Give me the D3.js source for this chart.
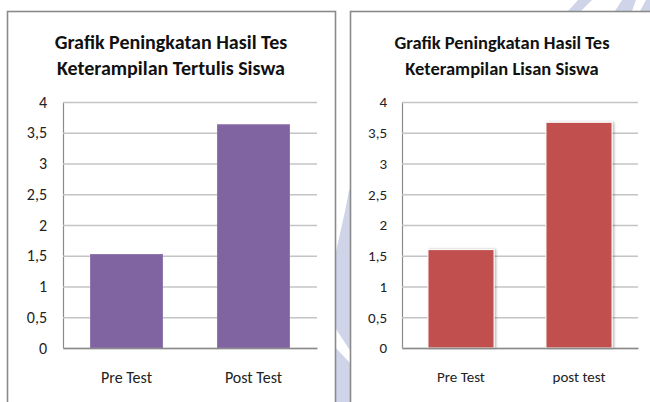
<!DOCTYPE html>
<html><head><meta charset="utf-8">
<script src="https://cdn.jsdelivr.net/npm/d3@7"></script>
<style>body{margin:0;background:#fff}svg{display:block}</style>
</head><body>
<svg id="c" width="650" height="402"></svg>
<script>
// ---- data ----
const categoriesTertulis = ["Pre Test", "Post Test"];
const valuesTertulis = [1.52, 3.63];
const categoriesLisan = ["Pre Test", "post test"];
const valuesLisan = [1.60, 3.67];
const yTicks = [0, 0.5, 1, 1.5, 2, 2.5, 3, 3.5, 4];
const yTickLabels = ["0", "0,5", "1", "1,5", "2", "2,5", "3", "3,5", "4"];
const titleTertulis = ["Grafik Peningkatan Hasil Tes", "Keterampilan Tertulis Siswa"];
const titleLisan = ["Grafik Peningkatan Hasil Tes", "Keterampilan Lisan Siswa"];

const svg = d3.select("#c");
const FONT = "Carlito, Calibri, Lato, 'Open Sans', sans-serif";
const CONDENSE = 1.0;

function condense(sel, f) {
  sel.each(function () {
    const w = this.getComputedTextLength();
    d3.select(this).attr("textLength", w * f).attr("lengthAdjust", "spacingAndGlyphs");
  });
}

// ---- watermark (faint background shapes) ----
const wm = svg.append("g").attr("fill", "#cfd4e8");
wm.append("path").attr("d", "M349,190 C345,215 338,240 334,262 L334,402 L351,402 L351,190 Z");
wm.append("path").attr("d", "M334,326 L351,352 L351,364 L334,346 Z").attr("fill", "#fff");
wm.append("path").attr("d", "M568,11 L581,11 L592,0 L578,0 Z");
wm.append("path").attr("d", "M615,11 L632,11 L636,0 L622,0 Z");
wm.append("path").attr("d", "M640,11 L650,11 L650,0 L646,0 Z");

// shadow filter for the second chart's bars
const defs = svg.append("defs");
const flt = defs.append("filter").attr("id", "sh").attr("x", "-20%").attr("y", "-5%").attr("width", "140%").attr("height", "110%");
flt.append("feDropShadow").attr("dx", 1.5).attr("dy", 0).attr("stdDeviation", 1.2)
   .attr("flood-color", "#000").attr("flood-opacity", 0.3);

function drawChart(o) {
  const g = svg.append("g");
  // chart frame
  g.append("rect").attr("x", o.box[0]).attr("y", o.box[1]).attr("width", o.box[2]).attr("height", o.box[3])
    .attr("fill", "#fff").attr("stroke", "#8a8a8a").attr("stroke-width", 1.6);

  // title
  const t = g.append("text").attr("text-anchor", "middle").attr("font-family", FONT)
    .attr("font-weight", "bold").attr("font-size", o.titleSize).attr("fill", "#111");
  o.title.forEach((line, i) => {
    t.append("tspan").attr("x", o.titleX).attr("y", o.titleY[i]).text(line);
  });

  const x = d3.scaleBand().domain(o.cats).range([o.x0, o.x1]).paddingInner(o.pad).paddingOuter(o.pad / 2);
  const y = d3.scaleLinear().domain([0, 4]).range([o.y0, o.y1]);

  // y axis with gridlines
  const ya = g.append("g").attr("transform", `translate(${o.x0},0)`)
    .call(d3.axisLeft(y).tickValues(yTicks).tickSize(-(o.x1 - o.x0)).tickSizeOuter(0)
      .tickPadding(o.tickPad).tickFormat((d, i) => yTickLabels[i]));
  ya.select(".domain").attr("stroke", "#8a8a8a").attr("stroke-width", 1.2);
  ya.selectAll(".tick line").attr("stroke", "#c4c4c4").attr("stroke-width", 1.5);
  ya.selectAll(".tick text").attr("font-family", FONT).attr("font-size", o.labelSize).attr("fill", "#222");
  ya.attr("font-family", null).attr("font-size", null);

  // bars
  g.append("g").selectAll("rect").data(o.values).join("rect")
    .attr("x", (d, i) => x(o.cats[i])).attr("width", x.bandwidth())
    .attr("y", d => y(d)).attr("height", d => y(0) - y(d))
    .attr("fill", o.color)
    .attr("stroke", o.barStroke).attr("stroke-width", 1)
    .attr("filter", o.shadow ? "url(#sh)" : null);

  // x axis
  const xa = g.append("g").attr("transform", `translate(0,${o.y0})`)
    .call(d3.axisBottom(x).tickSize(0).tickSizeOuter(0).tickPadding(o.catPad));
  xa.select(".domain").attr("stroke", "#8a8a8a").attr("stroke-width", 1.4);
  xa.selectAll(".tick text").attr("font-family", FONT).attr("font-size", o.labelSize).attr("fill", "#222");

  condense(t.selectAll("tspan").nodes().length ? t : t, 1);
  return { t, ya, xa };
}

const c1 = drawChart({
  box: [7.5, 11.5, 328, 420], title: titleTertulis, titleX: 171, titleY: [49, 75], titleSize: 20,
  cats: categoriesTertulis, values: valuesTertulis, x0: 63, x1: 317, y0: 348, y1: 102, pad: 0.433,
  tickPad: 16, catPad: 23.5, labelSize: 16, color: "#8064a2", barStroke: "#8f76af", shadow: false
});
const c2 = drawChart({
  box: [350.5, 11.5, 320, 420], title: titleLisan, titleX: 502, titleY: [49, 75], titleSize: 18.5,
  cats: categoriesLisan, values: valuesLisan, x0: 402, x1: 638, y0: 348, y1: 102, pad: 0.44,
  tickPad: 15, catPad: 23.5, labelSize: 15, color: "#c0504d", barStroke: "#ffffff", shadow: true
});
</script>
</body></html>
